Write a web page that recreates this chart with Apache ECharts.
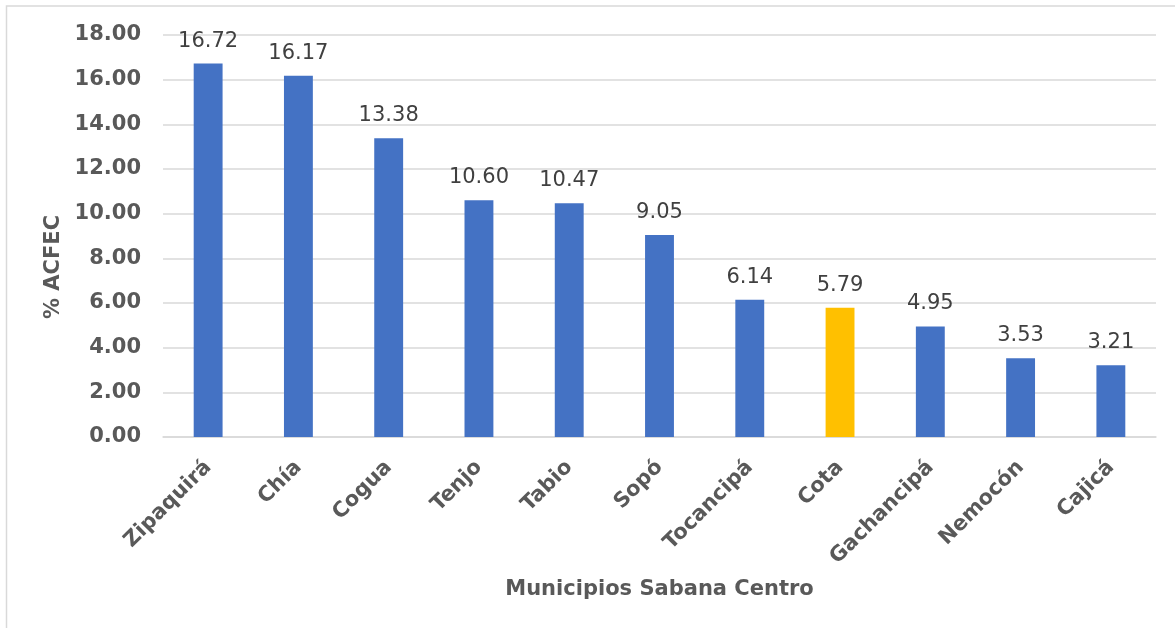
<!DOCTYPE html>
<html>
<head>
<meta charset="utf-8">
<style>
  html, body { margin: 0; padding: 0; background: #fff; }
  #chart { width: 1175px; height: 628px; }
</style>
<script src="https://cdn.jsdelivr.net/npm/echarts@6/dist/echarts.min.js"></script>
</head>
<body>
<div id="chart"></div>
<script>
// Municipalities of Sabana Centro and their % ACFEC
const municipios = ['Zipaquirá', 'Chía', 'Cogua', 'Tenjo', 'Tabio', 'Sopó', 'Tocancipá', 'Cota', 'Gachancipá', 'Nemocón', 'Cajicá'];
const acfec = [16.72, 16.17, 13.38, 10.60, 10.47, 9.05, 6.14, 5.79, 4.95, 3.53, 3.21];
const destacado = 'Cota';

const AZUL = '#4472C4';
const AMARILLO = '#FFC000';
const FONT = 'DejaVu Sans';

const chart = echarts.init(document.getElementById('chart'));

chart.setOption({
  animation: false,
  backgroundColor: '#fff',
  textStyle: { fontFamily: FONT },
  graphic: [{
    type: 'rect',
    shape: { x: 6.5, y: 6, width: 1180, height: 640 },
    style: { fill: 'none', stroke: '#d9d9d9', lineWidth: 1.5 },
    silent: true
  }],
  grid: { left: 163, right: 19, top: 35, bottom: 191 },
  xAxis: {
    type: 'category',
    data: municipios,
    name: 'Municipios Sabana Centro',
    nameLocation: 'middle',
    nameGap: 142,
    nameTextStyle: { color: '#595959', fontWeight: 'bold', fontSize: 21, fontFamily: FONT },
    axisLine: { lineStyle: { color: '#d9d9d9', width: 1.5 } },
    axisTick: { show: false },
    axisLabel: {
      rotate: 45,
      margin: 27,
      color: '#595959',
      fontWeight: 'bold',
      fontSize: 21,
      fontFamily: FONT,
      interval: 0
    }
  },
  yAxis: {
    type: 'value',
    min: 0,
    max: 18,
    interval: 2,
    name: '% ACFEC',
    nameLocation: 'middle',
    nameGap: 95,
    nameTextStyle: {
      color: '#595959', fontWeight: 'bold', fontSize: 21, fontFamily: FONT,
      padding: [0, 62, 0, 0]
    },
    axisLine: { show: false },
    axisTick: { show: false },
    splitLine: { lineStyle: { color: '#d9d9d9', width: 1.5 } },
    axisLabel: {
      margin: 22,
      color: '#595959',
      fontWeight: 'bold',
      fontSize: 21,
      fontFamily: FONT,
      formatter: v => v.toFixed(2)
    }
  },
  series: [{
    type: 'bar',
    barWidth: '32%',
    data: acfec.map((v, i) => ({
      value: v,
      itemStyle: { color: municipios[i] === destacado ? AMARILLO : AZUL }
    })),
    label: {
      show: true,
      position: 'top',
      distance: 12,
      color: '#404040',
      fontSize: 21,
      fontFamily: FONT,
      formatter: p => p.value.toFixed(2)
    }
  }]
});
</script>
</body>
</html>
